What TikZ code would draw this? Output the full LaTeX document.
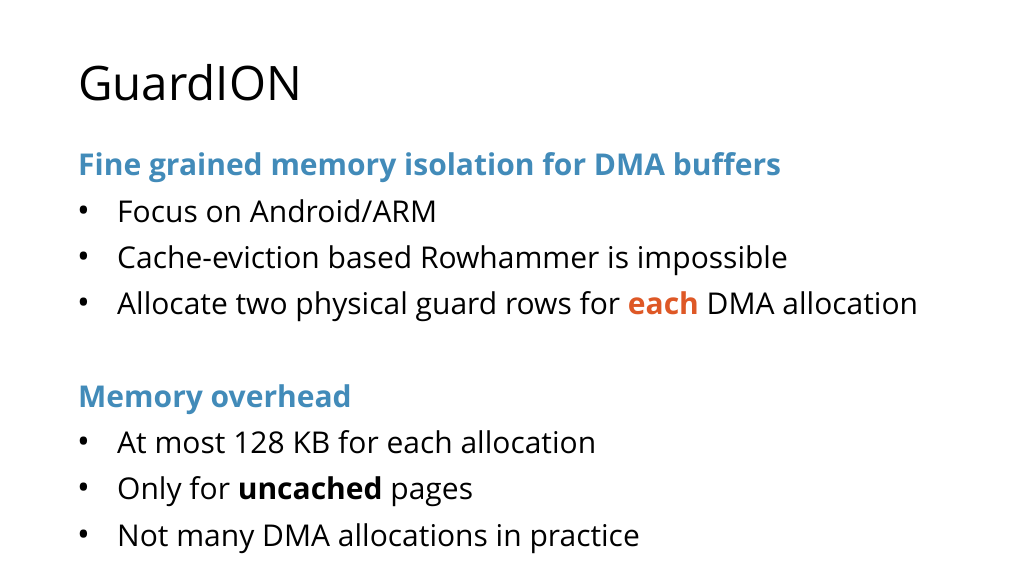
\documentclass[tikz,border=0pt]{standalone}
\usepackage{fontspec}
\setmainfont{Open Sans}
\definecolor{hblue}{RGB}{66,139,185}
\definecolor{horange}{RGB}{222,88,38}
\begin{document}
\begin{tikzpicture}[x=1pt,y=-1pt,
  txt/.style={anchor=base west,inner sep=0,font=\fontsize{30}{34}\selectfont},
  head/.style={txt,text=hblue,font=\fontsize{30}{34}\selectfont\bfseries},
  bul/.style={anchor=base west,inner sep=0,font=\fontsize{34}{34}\selectfont}]
\useasboundingbox (0,0) rectangle (1024,575);
\node[anchor=base west,inner sep=0,font=\fontsize{47.5}{54}\selectfont] (t) at (78,101) {GuardION};
\node[head] (h1) at (78,175) {Fine grained memory isolation for DMA buffers};
\foreach \y/\s [count=\i] in {222/{Focus on Android/ARM},268/{Cache-eviction based Rowhammer is impossible},314/{Allocate two physical guard rows for \textcolor{horange}{\bfseries each} DMA allocation}}{
  \node[bul] (b\i) at (77,\y) {•};
  \node[txt] (a\i) at (117,\y) {\s};
}
\node[head] (h2) at (78,407) {Memory overhead};
\foreach \y/\s [count=\i] in {453/{At most 128 KB for each allocation},499/{Only for \textbf{uncached} pages},546/{Not many DMA allocations in practice}}{
  \node[bul] (c\i) at (77,\y) {•};
  \node[txt] (d\i) at (117,\y) {\s};
}
\end{tikzpicture}
\end{document}
